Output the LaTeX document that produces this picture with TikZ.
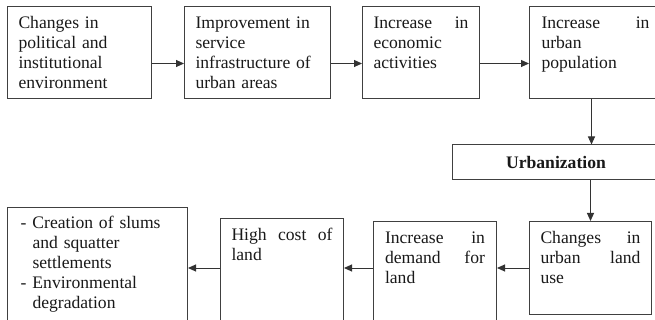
\documentclass[tikz,border=0pt]{standalone}
\usepackage{fontspec}
\setmainfont{Liberation Serif}
\usetikzlibrary{arrows.meta}
\begin{document}
\begin{tikzpicture}[x=1pt,y=-1pt,
  every node/.style={font=\fontsize{17.6}{20}\selectfont, text=black!90},
  box/.style={draw=black!75, line width=1pt, anchor=north west, align=left,
    inner xsep=11pt, inner ysep=6pt, text height=16pt,
    execute at begin node=\setlength{\parindent}{0pt}},
  arr/.style={draw=black!80, line width=1pt, -{Triangle[length=8pt,width=7pt]}}]
\useasboundingbox (0,0) rectangle (655,320);
\clip (0,0) rectangle (655,320);
\fill[white] (0,0) rectangle (655,320);
% top row
\node[box, text width=122pt, text depth=64pt] (b1) at (7,6)
  {Changes in\\political and\\institutional\\environment};
\node[box, text width=124pt, text depth=64pt] (b2) at (184,6)
  {Improvement in\\service\\infrastructure of\\urban areas};
\node[box, text width=95pt, text depth=64pt] (b3) at (362,6)
  {Increase\hfill in\\economic\\activities};
\node[box, inner xsep=12pt, text width=108pt, text depth=64pt] (b4) at (529,6)
  {Increase\hfill in\\urban\\population};
% urbanization
\node[draw=black!75, line width=1pt, minimum width=208pt, minimum height=35pt,
  font=\fontsize{17.6}{20}\selectfont\bfseries] (urb) at (556,162.5) {Urbanization};
% bottom row
\node[box, text width=100pt, text depth=65pt] (ch) at (529,221)
  {Changes\hfill in\\urban\hfill land\\use};
\node[box, inner xsep=11.5pt, text width=100pt, text depth=91pt] (dem) at (373,221)
  {Increase\hfill in\\demand\hfill for\\land};
\node[box, text width=101pt, text depth=94pt] (hc) at (220,218)
  {High\hfill cost\hfill of\\land};
\node[box, inner xsep=13pt, text width=154pt, text height=15pt, text depth=106pt] (res) at (7,207)
  {\makebox[12pt][l]{-}Creation of slums\\
   \hspace*{12pt}and squatter\\
   \hspace*{12pt}settlements\\
   \makebox[12pt][l]{-}Environmental\\
   \hspace*{12pt}degradation};
% connectors
\draw[arr] ([yshift=-11pt]b1.east) -- ([yshift=-11pt]b2.west);
\draw[arr] ([yshift=-11pt]b2.east) -- ([yshift=-11pt]b3.west);
\draw[arr] ([yshift=-11pt]b3.east) -- ([yshift=-11pt]b4.west);
\draw[arr] ([xshift=-4pt]b4.south) -- ([xshift=-4pt]b4.south |- urb.north);
\draw[arr] (urb.south -| ch.north) -- (ch.north);
\draw[arr] (ch.west) -- (dem.east |- ch.west);
\draw[arr] (dem.west |- ch.west) -- (hc.east |- ch.west);
\draw[arr] (hc.west |- ch.west) -- (res.east |- ch.west);
\end{tikzpicture}
\end{document}
